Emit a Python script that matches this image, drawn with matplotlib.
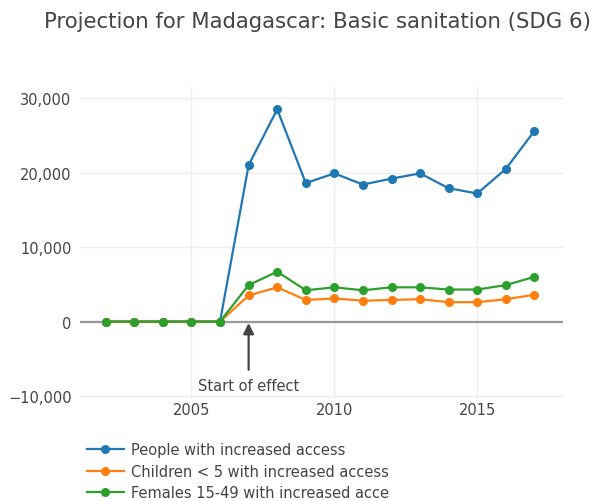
import matplotlib
matplotlib.use("Agg")
import matplotlib.pyplot as plt
from matplotlib.transforms import Bbox, TransformedBbox, IdentityTransform

years = list(range(2002, 2018))
people = [0, 0, 0, 0, 0, 21000, 28500, 18600, 19900, 18400, 19200, 19900, 17900, 17200, 20500, 25600]
children = [0, 0, 0, 0, 0, 3500, 4600, 2900, 3100, 2800, 2900, 3000, 2600, 2600, 3000, 3600]
females = [0, 0, 0, 0, 0, 4900, 6700, 4200, 4600, 4200, 4600, 4600, 4300, 4300, 4900, 6000]
series_names = ["People with increased access",
                "Children < 5 with increased access",
                "Females 15-49 with increased access"]
colors = ["#1f77b4", "#ff7f0e", "#2ca02c"]
xticks = [2005, 2010, 2015]
yticks = [-10000, 0, 10000, 20000, 30000]
effect_year = 2007

plt.rcParams['font.family'] = ['DejaVu Sans']

W, H = 606, 502
fig = plt.figure(figsize=(W / 100, H / 100), dpi=100)
ax = fig.add_axes([80 / W, 1 - 400 / H, (563 - 80) / W, (400 - 88) / H])

for vals, name, c in zip([people, children, females], series_names, colors):
    ax.plot(years, vals, color=c, lw=1.6, marker='o', ms=5.5, label=name, zorder=3,
            clip_on=False)

ax.set_xlim(2001.1, 2018.0)
ax.set_ylim(-10400, 31500)
ax.set_xticks(xticks)
ax.set_yticks(yticks)
ax.set_yticklabels([f"{v:,}".replace("-", "\u2212") for v in yticks])
for s in ax.spines.values():
    s.set_visible(False)
ax.grid(True, color='#eeeeee', lw=1)
ax.set_axisbelow(True)
ax.axhline(0, color='#999999', lw=1.6, zorder=2)
ax.tick_params(length=0, labelsize=10.5, colors='#444444', pad=6)
ax.tick_params(axis='x', pad=2)

ax.annotate("Start of effect", xy=(effect_year, -200), xytext=(effect_year, -8600),
            ha='center', va='center', fontsize=10.5, color='#444444',
            arrowprops=dict(arrowstyle='-|>,head_length=0.6,head_width=0.3',
                            color='#444444', lw=1.6, shrinkA=4, shrinkB=0),
            annotation_clip=False)

fig.text(318 / W, 1 - 22 / H, "Projection for Madagascar: Basic sanitation (SDG 6)",
         ha='center', va='center', fontsize=15.3, color='#444444')

handles, labels = ax.get_legend_handles_labels()
leg = fig.legend(handles, labels, loc='upper left',
                 bbox_to_anchor=(74 / W, 1 - 430 / H), frameon=False,
                 fontsize=10.5, labelcolor='#444444', handlelength=2.5,
                 labelspacing=0.45, handletextpad=0.5)
clipbox = TransformedBbox(Bbox([[0, 0], [390, H]]), IdentityTransform())
for t in leg.get_texts():
    t.set_clip_box(clipbox)
    t.set_clip_on(True)

fig.savefig("out.png", dpi=100)
